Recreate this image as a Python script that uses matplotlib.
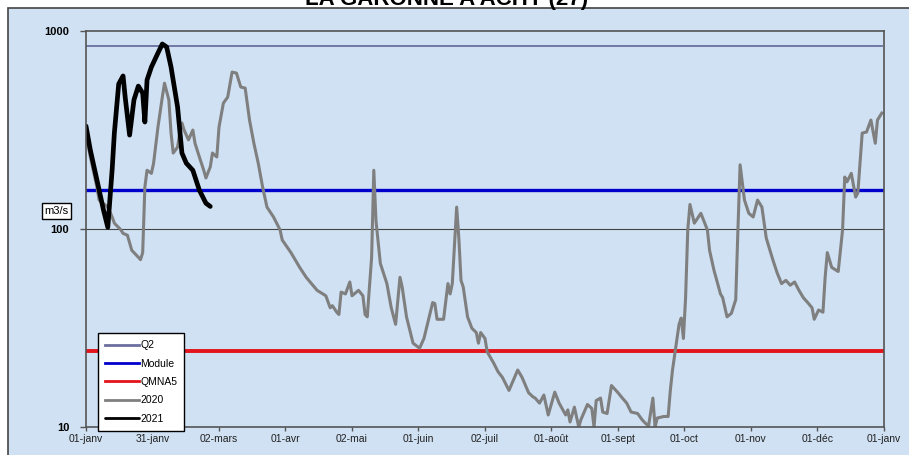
import matplotlib
matplotlib.use('Agg')
import matplotlib.pyplot as plt
from matplotlib.patches import Rectangle
from matplotlib.ticker import NullLocator, FixedLocator, FixedFormatter

# Reference flows (m3/s)
q2 = 840
module = 157
qmna5 = 24.2

# 2020 daily flows - day of year / value
days_2020 = [0, 2, 5, 6, 10, 12, 13, 16, 17, 19, 21, 23, 25, 26, 27, 28, 30, 31, 33, 35,
			 36, 38, 39, 40, 42, 43, 44, 45, 47, 49, 50, 52, 54, 55, 57, 58, 60, 61, 63, 65,
			 67, 69, 71, 73, 75, 77, 79, 81, 83, 86, 89, 90, 94, 98, 101, 104, 106, 110, 112, 113,
			 115, 116, 117, 119, 121, 122, 125, 127, 128, 129, 131, 132, 133, 135, 138, 140, 142, 144, 145, 147,
			 150, 153, 155, 159, 160, 161, 164, 166, 167, 168, 170, 171, 172, 173, 175, 177, 179, 180, 181, 183,
			 184, 187, 189, 191, 194, 198, 200, 203, 205, 206, 208, 210, 212, 215, 217, 220, 221, 222, 224, 226,
			 227, 230, 232, 233, 234, 236, 237, 239, 241, 244, 246, 248, 250, 253, 255, 256, 258, 260, 261, 262,
			 265, 267, 268, 269, 271, 272, 273, 274, 275, 276, 277, 279, 282, 285, 286, 288, 291, 292, 294, 296,
			 298, 299, 300, 302, 304, 306, 308, 310, 312, 315, 317, 319, 321, 323, 325, 327, 329, 331, 333, 334,
			 336, 338, 339, 340, 342, 344, 345, 347, 348, 349, 351, 353, 354, 356, 358, 360, 362, 363, 365]
flow_2020 = [300, 231, 163, 140, 129, 115, 107, 99, 95, 93, 78, 74, 70, 76, 163, 198, 191, 215, 327, 464,
			 545, 449, 305, 242, 259, 305, 343, 316, 282, 316, 271, 231, 198, 181, 206, 242, 231, 327, 432, 464,
			 620, 613, 521, 515, 355, 271, 215, 163, 129, 115, 99, 88, 76, 64, 57, 52, 49, 46, 40, 41,
			 38, 37, 48, 47, 54, 46, 49, 46, 37, 36, 72, 198, 110, 67, 53, 40, 33, 57, 51, 36,
			 26.5, 25, 28, 42.5, 42, 35, 35, 53, 47, 53, 129, 90, 55, 51, 36, 31.5, 30, 26.5, 30, 28,
			 24, 21, 19, 17.8, 15.3, 19.4, 17.8, 14.9, 14.2, 14, 13.2, 14.5, 11.5, 15, 13.2, 11.5, 12.2, 10.6, 12.6, 10,
			 10.9, 13, 12.4, 10, 13.6, 14, 11.9, 11.7, 16.2, 14.9, 14, 13.2, 11.9, 11.7, 10.9, 10.6, 10.1, 14, 10, 11.1,
			 11.3, 11.3, 15.3, 19.4, 27.5, 33, 35.5, 28, 45, 99, 133, 107, 120, 99, 78, 62, 47, 45, 36, 37.5,
			 44, 99, 211, 140, 120, 115, 140, 129, 90, 70, 60, 53, 55, 52, 54, 49, 45, 42.5, 40, 35,
			 39, 38, 57, 76, 64, 62, 61, 99, 183, 173, 191, 145, 152, 305, 309, 355, 271, 355, 385]

# 2021 daily flows (until end of february)
days_2021 = [0, 2, 5, 8, 10, 12, 13, 15, 17, 18, 20, 22, 24, 26, 27, 28, 30, 33, 35, 37,
			 39, 42, 44, 46, 49, 52, 55, 57]
flow_2021 = [331, 250, 177, 125, 102, 200, 305, 540, 593, 460, 298, 449, 527, 486, 347, 566, 658, 774, 860, 830,
			 658, 413, 242, 215, 198, 157, 135, 130]

tick_days = [0, 30.5, 61, 91.5, 122, 152.5, 183, 213.5, 244, 274.5, 305, 335.5, 366]
tick_labels = ['01-janv', '31-janv', '02-mars', '01-avr', '02-mai', '01-juin', '02-juil',
			   '01-août', '01-sept', '01-oct', '01-nov', '01-déc', '01-janv']

title = "LA GARONNE A ACHY (27)"

plt.rcParams['font.family'] = ['Liberation Sans', 'DejaVu Sans']

bg = '#cfe1f3'

fig = plt.figure(figsize=(9.09, 4.55), dpi=100)
fig.patch.set_facecolor('white')

# chart frame (behind the axes)
frame = Rectangle((8 / 909., -0.01), 1.0, 1 - 8 / 455. + 0.01, transform=fig.transFigure,
				  facecolor=bg, edgecolor='#444444', lw=1.2, zorder=-10)
fig.patches.append(frame)

# title (cut by the top of the picture, as in the original)
fig.text(0.491, 1 - 5 / 455., title, ha='center', va='baseline', fontsize=16,
		 fontweight='bold', color='black')

ax = fig.add_axes([86 / 909., 1 - 427 / 455., 798 / 909., 396 / 455.])
ax.set_facecolor('none')
ax.set_zorder(2)

# Lines
ax.plot([0, 365], [q2, q2], color='#6a6f9e', lw=1.3, label='Q2')
ax.plot([0, 366], [module, module], color='#0000cc', lw=2.4, label='Module')
ax.plot([0, 366], [qmna5, qmna5], color='#e3141c', lw=2.8, label='QMNA5')
ax.plot(days_2020, flow_2020, color='#7f7f7f', lw=2.2, label='2020', solid_joinstyle='round')
ax.plot(days_2021, flow_2021, color='black', lw=3.4, label='2021', solid_capstyle='round',
		solid_joinstyle='round')

ax.axhline(100, color='#444444', lw=0.8, zorder=1)

ax.set_yscale('log')
ax.set_ylim(10, 1000)
ax.set_xlim(0, 366)

ax.yaxis.set_major_locator(FixedLocator([10, 100, 1000]))
ax.yaxis.set_major_formatter(FixedFormatter(['10', '100', '1000']))
ax.yaxis.set_minor_locator(NullLocator())
ax.set_xticks(tick_days)
ax.set_xticklabels(tick_labels)

for lbl in ax.get_yticklabels():
	lbl.set_fontweight('bold')

ax.tick_params(axis='y', direction='out', length=4, width=1, color='#555555',
			   labelsize=8, pad=8)
ax.tick_params(axis='x', direction='out', length=3, width=1, color='#555555',
			   labelsize=7.5, labelcolor='#222222', pad=2)

for sp in ax.spines.values():
	sp.set_color('#555555')
	sp.set_linewidth(1.2)

# unit box
fig.text(56.5 / 909., 1 - 211 / 455., 'm3/s', ha='center', va='center', fontsize=8,
		 bbox=dict(boxstyle='square,pad=0.25', facecolor='white', edgecolor='black', lw=1))

# Legend
leg = ax.legend(loc='upper left', bbox_to_anchor=(98 / 909., 1 - 333 / 455.),
				bbox_transform=fig.transFigure, fontsize=7.5, handlelength=3.2,
				handletextpad=0.15, labelspacing=0.8, borderpad=0.7, borderaxespad=0,
				fancybox=False, framealpha=1, edgecolor='black')
leg.get_frame().set_linewidth(1)
for ln in leg.get_lines():
	ln.set_linewidth(2)

fig.savefig('out.png', dpi=100, facecolor=fig.get_facecolor())
print('saved out.png')
